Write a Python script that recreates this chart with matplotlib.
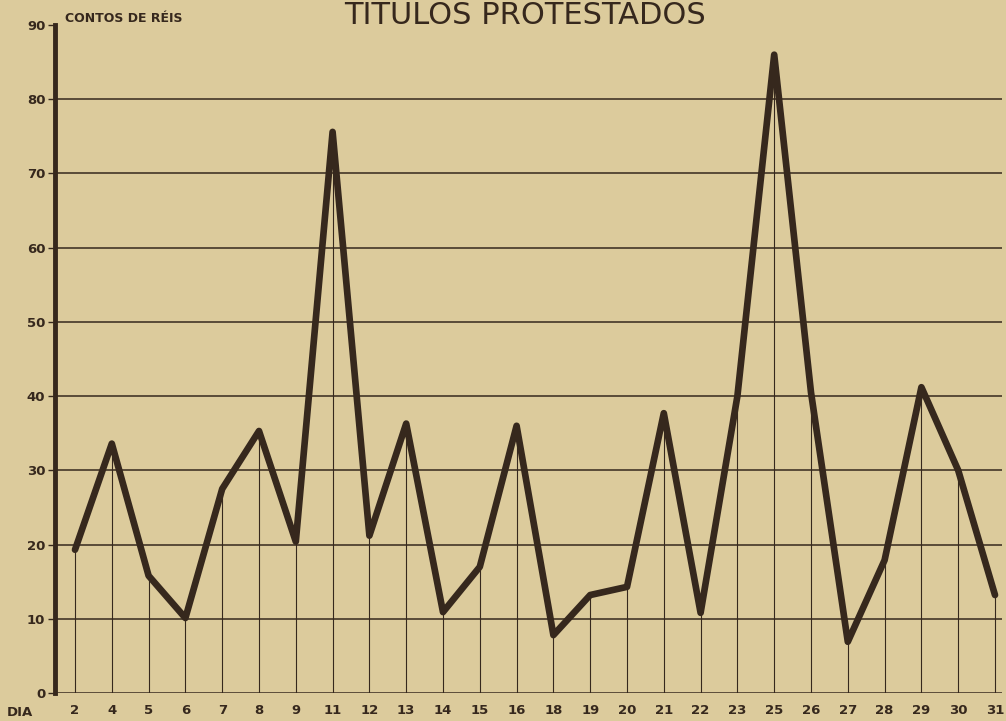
# +-----+ Titulos protestados +-----+ #
import matplotlib
matplotlib.use("Agg")
import matplotlib.pyplot as plt
import numpy as np

# donnees
dias = ['2', '4', '5', '6', '7', '8', '9', '11', '12', '13', '14', '15', '16',
        '18', '19', '20', '21', '22', '23', '25', '26', '27', '28', '29', '30', '31']
valores = [19.3, 33.6, 15.8, 10.1, 27.5, 35.3, 20.4, 75.6, 21.2, 36.3, 10.9, 17.0, 36.0,
           7.8, 13.2, 14.3, 37.7, 10.8, 40.0, 86.0, 40.5, 6.9, 17.9, 41.2, 30.0, 13.2]
niveaux = [0, 10, 20, 30, 40, 50, 60, 70, 80, 90]

fond = '#dccb9c'
encre = '#36281d'
W, H = 1006, 721

fig = plt.figure(figsize=(W / 100, H / 100), dpi=100, facecolor=fond)
ax = fig.add_axes([55 / W, 1 - 693 / H, (1002 - 55) / W, (693 - 25) / H])
ax.set_facecolor(fond)

x = np.arange(len(dias))
pas = (995 - 75) / (len(dias) - 1)
ax.set_xlim(-20 / pas, len(dias) - 1 + 7 / pas)
ax.set_ylim(0, 90)

# grille horizontale
for n in niveaux[1:-1]:
    ax.axhline(n, color=encre, lw=1.1, zorder=1)
ax.axhline(0, color=encre, lw=1.8, zorder=1)

# lignes verticales du sol jusqu'a la valeur
ax.vlines(x, 0, valores, color=encre, lw=0.8, zorder=1)

# courbe
ax.plot(x, valores, color=encre, lw=4.8, solid_joinstyle='round', solid_capstyle='round', zorder=3)

for s in ['top', 'right', 'bottom']:
    ax.spines[s].set_visible(False)
ax.spines['left'].set_linewidth(3.5)
ax.spines['left'].set_color(encre)

ax.set_yticks(niveaux)
ax.set_yticklabels([str(n) for n in niveaux], fontsize=9.5, fontweight='bold', color=encre)
ax.tick_params(axis='y', length=5, width=1, color=encre, pad=2)
ax.set_xticks(x)
ax.set_xticklabels(dias, fontsize=9.5, fontweight='bold', color=encre)
ax.tick_params(axis='x', length=0, pad=8)

fig.text(20 / W, 1 - 713 / H, 'DIA', fontsize=9.5, fontweight='bold', color=encre,
         ha='center', va='center')
fig.text(65 / W, 1 - 18 / H, 'CONTOS DE RÉIS', fontsize=9, fontweight='bold', color=encre,
         ha='left', va='center')
fig.text(525 / W, 1 - 1 / H, 'TITULOS PROTESTADOS', fontsize=22, color=encre,
         ha='center', va='top')

fig.savefig('out.png', dpi=100, facecolor=fond)
